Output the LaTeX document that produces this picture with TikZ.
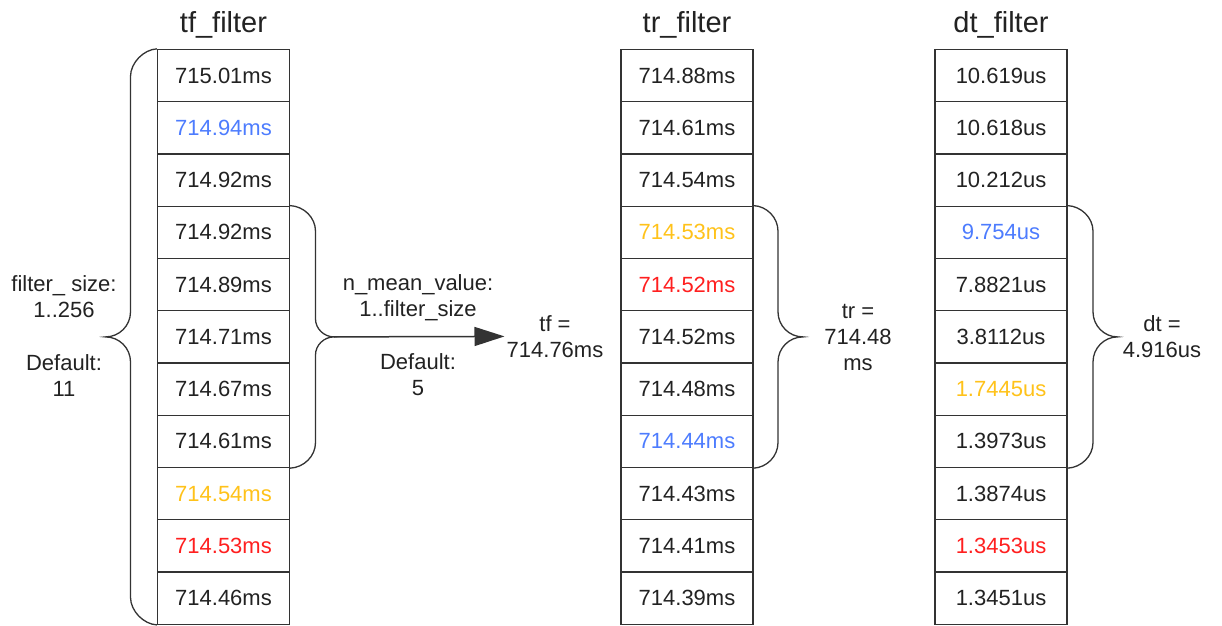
\documentclass[tikz,border=0pt]{standalone}
\usepackage{fontspec}
\setmainfont{Liberation Sans}
\usetikzlibrary{arrows.meta}
\definecolor{txt}{HTML}{222222}
\definecolor{cellline}{HTML}{333333}
\definecolor{vblue}{HTML}{4D7CFE}
\definecolor{vyellow}{HTML}{FFC21A}
\definecolor{vred}{HTML}{FF1F1F}
\tikzset{
 cell/.style={draw=cellline, line width=1.3pt, minimum width=132pt, minimum height=52.25pt, inner sep=0pt, font=\fontsize{22}{26}\selectfont},
 coltitle/.style={font=\fontsize{29}{34}\selectfont, text=txt, anchor=base, inner sep=0pt},
 lbl/.style={font=\fontsize{22}{26}\selectfont, text=txt, align=center, inner sep=2pt},
 brace/.style={draw=cellline, line width=1.3pt},
 flow/.style={draw=cellline, line width=1.5pt, -{Triangle[length=30pt,width=19pt]}},
}
\begin{document}
\begin{tikzpicture}[x=1pt,y=-1pt]
\useasboundingbox (0,0) rectangle (1222,625);
% titles
\node[coltitle] (ta) at (223.5,32) {tf\_filter};
\node[coltitle] (tb) at (687,32) {tr\_filter};
\node[coltitle] (tc) at (1001,32) {dt\_filter};
% column tf
\foreach \i/\v/\c in {1/715.01ms/txt,2/714.94ms/vblue,3/714.92ms/txt,4/714.92ms/txt,5/714.89ms/txt,6/714.71ms/txt,7/714.67ms/txt,8/714.61ms/txt,9/714.54ms/vyellow,10/714.53ms/vred,11/714.46ms/txt}
  \node[cell, text=\c] (a\i) at (223.5,{49.5+(\i-0.5)*52.25}) {\v};
% column tr
\foreach \i/\v/\c in {1/714.88ms/txt,2/714.61ms/txt,3/714.54ms/txt,4/714.53ms/vyellow,5/714.52ms/vred,6/714.52ms/txt,7/714.48ms/txt,8/714.44ms/vblue,9/714.43ms/txt,10/714.41ms/txt,11/714.39ms/txt}
  \node[cell, text=\c] (b\i) at (687,{49.5+(\i-0.5)*52.25}) {\v};
% column dt
\foreach \i/\v/\c in {1/10.619us/txt,2/10.618us/txt,3/10.212us/txt,4/9.754us/vblue,5/7.8821us/txt,6/3.8112us/txt,7/1.7445us/vyellow,8/1.3973us/txt,9/1.3874us/txt,10/1.3453us/vred,11/1.3451us/txt}
  \node[cell, text=\c] (c\i) at (1001,{49.5+(\i-0.5)*52.25}) {\v};
% brace tips
\coordinate (tipL) at (105.5,336.9);
\coordinate (tipA) at (334,336.9);
\coordinate (tipB) at (803,336.9);
\coordinate (tipC) at (1117.5,336.9);
% left brace
\draw[brace] (a1.north west) .. controls (143.7,49.5) and (130.5,62.7) .. (130.5,76.5)
  -- (130.5,311.9) .. controls (130.5,325.7) and (119.3,336.9) .. (tipL)
  .. controls (119.3,336.9) and (130.5,348.1) .. (130.5,361.9)
  -- (130.5,597.25) .. controls (130.5,611.05) and (143.7,624.25) .. (a11.south west);
% right brace of tf
\draw[brace] (a4.north east) .. controls (303.8,206.25) and (315.5,217.45) .. (315.5,231.25)
  -- (315.5,318.9) .. controls (315.5,328.8) and (324.1,336.9) .. (tipA)
  .. controls (324.1,336.9) and (315.5,345) .. (315.5,354.9)
  -- (315.5,442.5) .. controls (315.5,456.3) and (303.8,467.5) .. (a8.south east);
% brace of tr
\draw[brace] (b4.north east) .. controls (766.8,206.25) and (778,217.45) .. (778,231.25)
  -- (778,311.9) .. controls (778,325.7) and (789.2,336.9) .. (tipB)
  .. controls (789.2,336.9) and (778,348.1) .. (778,361.9)
  -- (778,442.5) .. controls (778,456.3) and (766.8,467.5) .. (b8.south east);
% brace of dt
\draw[brace] (c4.north east) .. controls (1081,206.25) and (1093,217.45) .. (1093,231.25)
  -- (1093,311.9) .. controls (1093,325.7) and (1104.2,336.9) .. (tipC)
  .. controls (1104.2,336.9) and (1093,348.1) .. (1093,361.9)
  -- (1093,442.5) .. controls (1093,456.3) and (1081,467.5) .. (c8.south east);
% labels
\node[lbl] (fs) at (64,297) {filter\_ size:\\1..256};
\node[lbl] (fd) at (64,376) {Default:\\11};
\node[lbl] (nm) at (418,297.5) {n\_mean\_value:\\1..filter\_size};
\node[lbl] (nd) at (418,374.5) {Default:\\5};
\node[lbl] (tf) at (555,336.4) {tf =\\714.76ms};
\node[lbl] (tr) at (858,337) {tr =\\714.48\\ms};
\node[lbl] (dt) at (1162,336.5) {dt =\\4.916us};
% arrow
\draw[flow] (tipA) -- (tf.west);
\end{tikzpicture}
\end{document}
